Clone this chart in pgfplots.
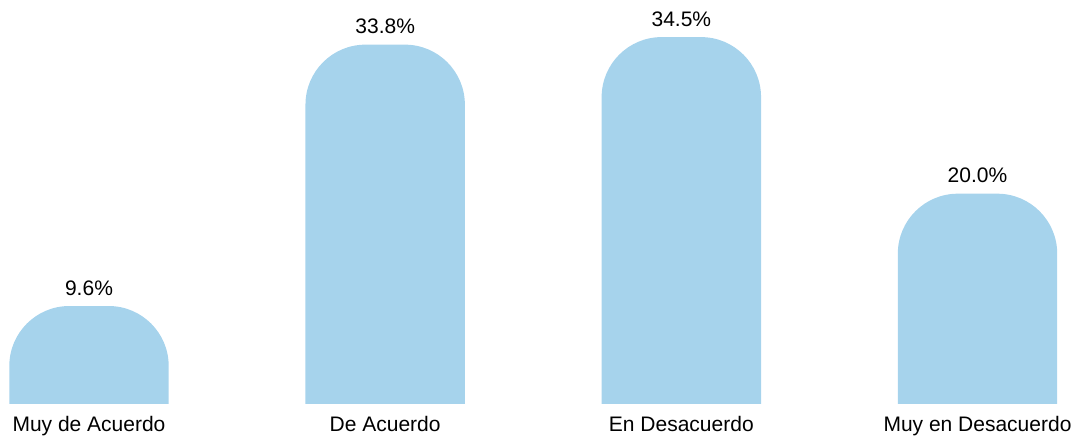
\documentclass[border=0pt]{standalone}
\usepackage{fontspec}
\setmainfont{Liberation Sans}
\usepackage{pgfplots}
\usepackage{pgfplotstable}
\pgfplotsset{compat=1.18}
\definecolor{barblue}{RGB}{166,211,236}
\pgfplotstableread{
x v
0 9.6
1 33.8
2 34.5
3 20.0
}\datatable
\begin{document}
\begin{tikzpicture}
\useasboundingbox (0,0) rectangle (1076pt,438pt);
\begin{scope}
\clip (0pt,34pt) rectangle (1076pt,438pt);
\begin{axis}[
  at={(0pt,-58.1pt)}, anchor=south west,
  x=296.17pt, y=10.8pt,
  xmin=-0.3005, xmax=3.3326,
  ymin=0, ymax=45.935,
  hide axis,
  /pgf/number format/assume math mode=true,
]
\addplot[ybar, bar width=159.4pt, fill=barblue, draw=none, rounded corners=60pt,
  y filter/.expression={y+8},
  point meta=\thisrow{v},
  nodes near coords={\pgfmathprintnumber[fixed,fixed zerofill,precision=1]{\pgfplotspointmeta}\%},
  every node near coord/.append style={font=\fontsize{21}{25}\selectfont, anchor=base, inner sep=0pt, yshift=11pt, text=black},
] table[x=x, y=v] {\datatable};
\end{axis}
\end{scope}
\begin{axis}[
  at={(0pt,34pt)}, anchor=south west,
  x=296.17pt, y=10.8pt,
  xmin=-0.3005, xmax=3.3326,
  ymin=8.528, ymax=45.935,
  axis line style={draw=none},
  major tick length=0pt,
  ytick=\empty,
  xtick={0,1,2,3},
  xticklabels={Muy de Acuerdo, De Acuerdo, En Desacuerdo, Muy en Desacuerdo},
  xticklabel style={font=\fontsize{21}{25}\selectfont, anchor=base, yshift=-28pt, inner sep=0pt},
]
\end{axis}
\end{tikzpicture}
\end{document}
